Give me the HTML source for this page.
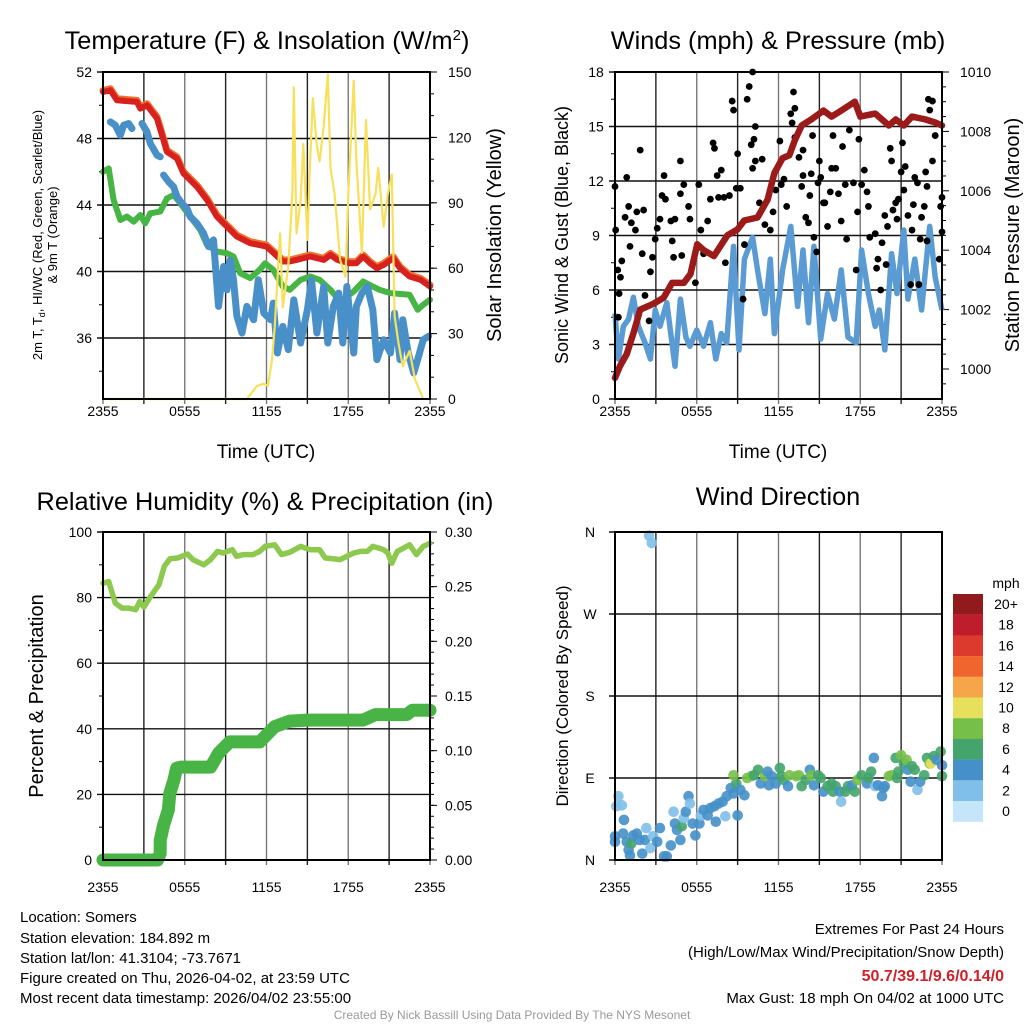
<!DOCTYPE html>
<html><head><meta charset="utf-8"><style>
body{margin:0;background:#fff;}
svg{display:block;font-family:"Liberation Sans",sans-serif;}
</style></head><body>
<svg id="fig" width="1024" height="1024" viewBox="0 0 1024 1024" xmlns="http://www.w3.org/2000/svg">
<rect width="1024" height="1024" fill="#fff"/>
<text x="267" y="49" font-size="25.3" text-anchor="middle">Temperature (F) &amp; Insolation (W/m<tspan dy="-9" font-size="15">2</tspan><tspan dy="9">)</tspan></text>
<text x="778" y="49" font-size="25.3" text-anchor="middle">Winds (mph) &amp; Pressure (mb)</text>
<text x="265" y="510" font-size="25.3" text-anchor="middle">Relative Humidity (%) &amp; Precipitation (in)</text>
<text x="778" y="505" font-size="25.3" text-anchor="middle">Wind Direction</text>
<g font-size="13" text-anchor="middle">
<text transform="translate(42,235) rotate(-90)">2m T, T<tspan dy="3" font-size="9">d</tspan><tspan dy="-3">, HI/WC (Red, Green, Scarlet/Blue)</tspan></text>
<text transform="translate(57,235) rotate(-90)">&amp; 9m T (Orange)</text></g>
<text transform="translate(501,235) rotate(-90)" font-size="20" text-anchor="middle">Solar Insolation (Yellow)</text>
<text transform="translate(568,235) rotate(-90)" font-size="18" text-anchor="middle">Sonic Wind &amp; Gust (Blue, Black)</text>
<text transform="translate(1019,235) rotate(-90)" font-size="20" text-anchor="middle">Station Pressure (Maroon)</text>
<text transform="translate(43,696) rotate(-90)" font-size="20" text-anchor="middle">Percent &amp; Precipitation</text>
<text transform="translate(568,696) rotate(-90)" font-size="17" text-anchor="middle">Direction (Colored By Speed)</text>
<text x="266" y="458" font-size="19" text-anchor="middle">Time (UTC)</text>
<text x="778" y="458" font-size="19" text-anchor="middle">Time (UTC)</text>
<g font-size="15">
<text x="20" y="922">Location: Somers</text>
<text x="20" y="943">Station elevation: 184.892 m</text>
<text x="20" y="963">Station lat/lon: 41.3104; -73.7671</text>
<text x="20" y="983">Figure created on Thu, 2026-04-02, at 23:59 UTC</text>
<text x="20" y="1003">Most recent data timestamp: 2026/04/02 23:55:00</text></g>
<g font-size="15" text-anchor="end">
<text x="1004" y="934">Extremes For Past 24 Hours</text>
<text x="1004" y="957">(High/Low/Max Wind/Precipitation/Snow Depth)</text>
<text x="1004" y="981" fill="#d0202a" font-weight="bold" font-size="16">50.7/39.1/9.6/0.14/0</text>
<text x="1004" y="1003">Max Gust: 18 mph On 04/02 at 1000 UTC</text></g>
<text x="512" y="1019" font-size="12" fill="#999" text-anchor="middle">Created By Nick Bassill Using Data Provided By The NYS Mesonet</text>
</svg>
<script>
// ---- data ----
const xTickLabels=["2355","0555","1155","1755","2355"];
const tempTicks=[36,40,44,48,52];
const solarTicks=[0,30,60,90,120,150];
const windTicks=[0,3,6,9,12,15,18];
const presTicks=[1000,1002,1004,1006,1008,1010];
const rhTicks=[0,20,40,60,80,100];
const precipTicks=[0.00,0.05,0.10,0.15,0.20,0.25,0.30];
const dirTickLabels=["N","E","S","W","N"];
const speedClassLabels=["0","2","4","6","8","10","12","14","16","18","20+"];
const speedColors=["#c4e6f8","#80bfe8","#4590c9","#44a46c","#76c04a","#e6e05c","#f6a649","#f0652e","#dc3a2c","#bf1d2b","#911a1c"];

const tempHours=[0,0.54,1.03,2.49,2.74,3.23,3.96,4.45,4.69,5.43,5.91,6.89,7.63,8.36,9.09,9.83,10.8,12.0,12.8,13.2,13.7,14.2,15.2,16.2,16.7,17.2,17.6,18.1,18.6,19.1,19.6,20.1,20.6,21.3,21.8,22.5,23.3,24];
const tempValues=[50.8,50.9,50.3,50.2,49.8,50.0,49.2,47.9,47.2,46.8,45.9,45.1,44.3,43.3,42.7,42.1,41.7,41.5,40.9,40.6,40.6,40.7,40.9,40.7,41.0,40.7,40.6,40.5,40.5,40.9,40.5,40.2,40.4,40.8,40.2,39.7,39.5,39.1];
const dewHours=[0,0.42,0.78,1.27,1.76,2.25,2.74,3.1,3.47,4.2,4.69,5.18,5.67,6.4,7.14,7.63,8.36,9.09,9.58,10.07,10.8,11.5,11.9,12.5,13.2,13.7,14.5,15.2,15.9,16.7,17.2,17.6,18.4,19.1,19.8,20.3,21.1,22.5,23.1,23.5,24];
const dewValues=[46.0,46.2,44.3,43.1,43.3,43.0,43.4,42.9,43.5,43.6,44.4,44.6,44.1,43.3,42.5,41.6,41.2,41.1,40.9,39.9,39.6,40.1,40.5,40.1,39.1,38.9,39.5,39.7,39.5,38.9,38.4,38.3,38.8,39.4,39.1,38.9,38.7,38.6,37.7,38.0,38.3];
const chillHours=[0.54,0.9,1.27,1.52,1.88,2.13,null,2.86,3.23,3.47,3.96,4.2,null,4.45,4.81,5.18,5.43,5.79,6.16,6.4,6.89,7.38,7.75,8.11,8.48,8.85,9.09,9.34,9.58,9.83,10.2,10.56,11.05,11.4,11.8,12.3,12.5,12.8,13.2,13.6,14.0,14.5,15.0,15.3,15.7,16.2,16.5,16.9,17.3,17.6,17.9,18.1,18.4,18.6,19.0,19.4,19.8,20.1,20.6,21.1,21.4,21.8,22.0,22.4,22.8,23.1,23.5,23.9];
const chillValues=[49.0,48.8,48.2,48.8,48.9,48.6,null,48.9,48.4,47.7,47.0,46.9,null,45.8,45.4,45.1,44.5,44.1,43.8,43.3,42.9,42.3,41.5,41.9,37.9,40.3,38.9,40.7,39.5,37.3,36.3,37.9,37.1,39.5,37.5,37.1,38.1,35.1,36.7,35.3,38.3,35.7,37.7,39.5,36.3,39.1,35.7,37.9,38.7,35.7,39.1,37.5,35.1,37.9,38.7,39.1,37.7,34.7,35.9,35.1,37.5,34.7,37.1,35.1,33.9,34.7,35.9,36.1];
const solarHours=[0,10.56,11.05,11.3,11.8,12.1,12.4,12.6,13.0,13.2,13.6,13.9,14.0,14.2,14.5,14.7,15.0,15.2,15.4,15.7,15.9,16.2,16.5,16.7,17.0,17.4,17.8,18.0,18.4,18.6,19.0,19.3,19.6,20.0,20.2,20.6,20.9,21.2,21.4,21.7,22.0,22.5,22.9,23.3,23.5,24];
const solarValues=[0,0,4,6,7,6,18,33,76,42,61,94,143,76,91,117,73,109,138,116,109,125,149,106,94,64,56,94,146,109,67,128,87,94,106,79,94,103,38,25,15,22,9,3,0,0];

const presHours=[0,0.37,0.86,1.35,1.85,2.83,3.57,4.19,5.05,5.54,6.03,6.52,7.26,8.25,8.99,9.48,10.46,11.2,11.7,12.3,12.8,13.2,13.7,14.4,15.3,15.9,16.6,17.6,18.0,19.1,20.1,20.6,21.2,21.8,22.8,23.5,24];
const presValues=[999.7,1000.1,1000.5,1001.2,1002.0,1002.2,1002.4,1002.9,1002.9,1003.2,1004.2,1004.0,1003.8,1004.5,1004.7,1005.0,1005.1,1005.7,1006.6,1007.1,1007.2,1007.7,1008.2,1008.4,1008.7,1008.5,1008.7,1009.0,1008.5,1008.6,1008.2,1008.4,1008.2,1008.5,1008.4,1008.3,1008.2];
const windHours=[0,0.25,0.62,1.0,1.35,1.72,2.2,2.6,2.95,3.3,3.8,4.4,4.8,5.2,5.5,6.0,6.5,7.0,7.4,7.8,8.2,8.7,9.1,9.5,10.1,10.5,11.0,11.4,11.7,12.3,12.9,13.4,13.8,14.2,14.6,15.1,15.6,16.1,16.6,17.1,17.7,18.1,18.6,19.1,19.4,19.8,20.3,20.7,21.2,21.5,22.0,22.5,23.1,23.5,24];
const windValues=[4.7,2.2,4.0,4.4,5.6,4.0,3.1,2.2,4.9,4.0,5.3,1.8,5.5,3.4,2.9,3.8,2.9,4.2,2.2,3.6,3.1,8.4,2.7,7.7,8.9,6.9,4.7,7.7,3.6,7.1,9.5,5.1,8.2,4.2,8.4,3.3,5.8,4.4,7.1,3.4,3.1,8.2,5.8,4.0,4.9,2.7,8.0,5.8,9.3,5.5,7.7,4.9,9.5,6.7,4.9];
const gustHours=[0,0.05,0.2,0.3,0.25,0.5,0.4,0.86,0.74,1.0,1.1,1.2,1.5,1.6,1.85,2.0,2.1,2.2,2.5,2.6,2.75,2.95,3.1,3.3,3.45,3.6,3.7,4.1,4.2,4.3,4.4,4.8,4.8,4.9,5.05,5.4,5.5,5.9,6.15,6.3,6.5,6.8,7.0,7.2,7.3,7.5,7.6,7.8,8.0,8.1,8.4,8.6,8.7,9.0,8.9,9.2,9.4,9.5,9.7,9.85,10.1,10.0,10.2,10.3,10.1,10.3,10.6,10.8,11.0,11.4,11.6,11.8,12.1,12.2,12.4,12.6,12.9,13.0,13.1,13.2,13.2,13.5,13.7,13.8,13.8,14.0,14.2,14.3,14.4,14.5,14.6,14.8,14.9,15.0,15.1,15.3,15.4,15.6,15.8,15.9,16.0,16.2,16.4,16.6,16.7,16.9,17.0,17.2,17.5,17.7,17.8,17.9,18.1,18.3,18.5,18.6,18.7,19.1,19.2,19.3,19.5,19.6,19.8,19.9,20.0,20.2,20.3,20.4,20.6,20.7,20.8,21.0,21.1,21.2,21.3,21.5,21.7,21.8,21.9,22.0,22.2,22.3,22.4,22.5,22.7,22.8,22.9,23.0,23.1,23.3,23.3,23.5,23.8,24.0,24.0,23.9,22.9];
const gustValues=[11.7,9.3,7.1,5.8,4.5,7.6,6.7,12.2,10.0,10.6,8.4,9.7,9.3,10.3,13.7,8.0,10.4,5.7,4.3,7.0,7.8,8.8,9.4,9.9,11.2,12.3,11.0,9.8,8.7,7.8,9.9,13.1,11.3,7.9,11.8,10.6,9.9,6.4,11.8,9.3,8.0,9.8,11.0,14.1,13.8,12.3,11.1,12.6,11.1,7.5,11.2,16.4,15.9,13.5,11.6,11.6,5.5,8.5,16.5,17.2,18.0,14.0,14.3,15.0,12.7,13.1,10.8,13.2,9.6,9.3,10.3,11.5,14.2,11.8,12.1,10.6,15.7,15.2,16.9,16.0,14.4,13.3,11.7,13.7,12.3,10.0,9.7,11.2,12.4,14.5,8.9,8.1,11.9,13.1,12.2,10.8,10.8,9.5,11.4,12.7,14.5,12.7,11.3,9.8,13.9,11.8,8.8,14.8,11.9,7.1,10.3,14.3,11.8,12.6,11.4,10.6,8.9,9.1,7.2,7.7,6.0,8.6,10.1,7.4,9.5,13.8,13.1,10.4,10.8,9.9,11.0,12.5,14.1,11.5,12.8,10.1,6.3,9.3,10.7,12.2,11.9,6.3,8.8,10.0,10.6,12.5,11.7,16.5,15.9,16.4,13.1,14.5,7.7,9.2,11.1,10.6,8.7];

const rhHours=[0,0.42,0.9,1.4,1.9,2.4,2.7,3.0,3.5,4.1,4.5,4.9,5.5,6.2,6.6,7.4,7.9,8.4,8.8,9.5,9.8,10.3,11.0,11.5,11.9,12.6,13.1,13.7,14.5,15.2,15.9,16.3,17.4,18.4,18.9,19.4,19.8,20.6,20.9,21.2,21.6,22.5,23.0,23.5,24];
const rhValues=[84.4,84.9,78.3,76.8,76.8,76.3,78.8,77.1,80.4,83.9,89.5,91.8,92.1,93.3,91.6,90.0,91.6,94.1,93.6,94.6,92.6,93.1,93.1,94.1,95.6,96.1,93.1,93.8,95.6,94.6,94.6,92.1,91.6,93.6,94.1,94.1,95.6,94.6,93.6,90.5,94.1,96.1,93.1,95.6,96.6];
const precipHours=[0,4.0,4.2,4.2,4.45,4.8,4.9,5.2,5.4,5.7,7.9,8.5,9.3,11.5,12.6,13.7,15.0,19.1,20.0,22.3,22.7,24];
const precipValues=[0,0,0.006,0.018,0.032,0.046,0.061,0.073,0.084,0.085,0.085,0.098,0.108,0.108,0.122,0.127,0.128,0.128,0.133,0.133,0.137,0.137];

const dirHours=[2.5,2.7,0,0,0.25,0.1,0.5,0.66,0.6,0.86,1.0,1.1,1.2,1.35,1.6,1.8,2.0,2.2,2.3,2.6,2.8,3.1,3.3,3.6,3.8,4.1,4.3,4.4,4.55,4.8,4.9,5.05,5.2,5.4,5.5,5.7,5.9,6.2,6.3,6.5,6.8,7.0,7.3,7.4,7.6,7.9,8.1,8.2,8.5,8.7,8.9,9.0,8.7,9.2,9.5,9.7,10.0,10.2,10.5,10.7,11.0,11.2,11.3,11.5,11.8,12.1,12.2,12.4,12.7,12.8,13.3,13.5,13.7,14.0,14.3,14.4,14.6,14.9,15.1,15.3,15.6,15.9,16.0,16.2,16.5,16.6,16.9,17.1,17.4,17.6,17.8,18.1,18.5,18.6,18.8,19.0,19.1,19.3,19.6,19.7,19.8,20.1,20.3,20.6,20.7,20.8,21.0,21.2,21.4,21.5,21.7,21.8,22.0,22.2,22.4,22.7,22.9,23.1,23.2,23.4,23.6,23.9,24.0,24.0];
const dirValues=[356,348,26,20,70,59,60,44,29,20,11,5,18,27,29,22,7,22,35,13,26,20,35,4,4,16,53,40,33,22,37,46,53,70,62,40,27,40,49,55,49,57,59,42,62,64,48,70,79,73,84,49,93,77,71,90,92,93,99,84,92,97,82,92,84,101,92,88,81,93,92,93,81,88,99,93,82,93,90,75,81,84,75,81,75,64,75,81,82,75,88,93,84,90,97,112,81,82,70,79,81,92,93,112,90,97,115,106,110,99,86,103,99,77,86,93,112,106,106,114,110,119,104,92];
const dirSpeeds=[2,2,4,4,2,2,2,4,4,4,4,4,6,4,4,4,4,4,2,2,2,4,4,4,4,4,2,4,4,4,6,2,4,4,2,4,4,4,2,4,4,4,4,4,4,4,2,4,4,4,6,4,8,4,4,8,8,6,6,4,8,4,4,4,4,6,6,6,4,8,8,8,6,6,4,8,4,6,6,4,6,6,6,6,4,2,6,6,4,6,8,6,4,6,6,4,2,4,4,4,4,8,8,6,6,6,8,6,8,4,4,6,6,2,4,6,6,8,10,6,4,6,4,6];

// ---- drawing ----
const svg=document.getElementById('fig');
const NS='http://www.w3.org/2000/svg';
function mk(tag,attrs,parent){const e=document.createElementNS(NS,tag);for(const k in attrs)e.setAttribute(k,attrs[k]);(parent||svg).appendChild(e);return e;}
function txt(x,y,s,size,anchor,parent){const t=mk('text',{x:x,y:y,'font-size':size,'text-anchor':anchor},parent);t.textContent=s;return t;}
function pathFrom(xs,ys,X,Y){let d='',pen=false;for(let i=0;i<xs.length;i++){if(xs[i]===null||ys[i]===null){pen=false;continue;}d+=(pen?'L':'M')+X(xs[i]).toFixed(1)+','+Y(ys[i]).toFixed(1);pen=true;}return d;}

function frame(L,R,T,B,name){
  const g=mk('g',{});
  
  
  for(let i=0;i<=8;i++){const x=L+(R-L)*i/8;mk('line',{x1:x,y1:T,x2:x,y2:B+5,stroke:(i%2?'#222':'#777'),'stroke-width':1.4},g);}
  return g;
}
function hGrid(g,L,R,ys){ys.forEach(y=>mk('line',{x1:L-6,y1:y,x2:R,y2:y,stroke:'#111','stroke-width':1.4},g));}
function border(L,R,T,B,name){const r=mk('rect',{x:L,y:T,width:R-L,height:B-T,fill:'none',stroke:'#000','stroke-width':2});}
function xLabels(L,R,y,name){const g=mk('g',{});xTickLabels.forEach((s,i)=>txt(L+(R-L)*i/4,y,s,14,'middle',g));}

// Panel 1
const P1={L:103,R:430,T:72,B:399};
const X1=h=>P1.L+h/24*(P1.R-P1.L);
const YT=t=>P1.T+(52-t)*16.625;
const YS=w=>P1.B-w/150*(P1.B-P1.T);
let g1=frame(P1.L,P1.R,P1.T,P1.B,'temp');
hGrid(g1,P1.L,P1.R,tempTicks.map(YT));
for(let t=34;t<52;t+=4)mk('line',{x1:P1.L-4,y1:YT(t),x2:P1.L,y2:YT(t),stroke:'#000'},g1);
let gl=mk('g',{});
tempTicks.forEach(t=>txt(P1.L-11,YT(t)+5,String(t),14,'end',gl));
let gr=mk('g',{});
solarTicks.forEach(w=>{mk('line',{x1:P1.R,y1:YS(w),x2:P1.R+7,y2:YS(w),stroke:'#000'},gr);txt(P1.R+18,YS(w)+5,String(w),14,'start',gr);});
for(let w=10;w<150;w+=10)mk('line',{x1:P1.R,y1:YS(w),x2:P1.R+4,y2:YS(w),stroke:'#000'},gr);
let s;
s=mk('path',{d:pathFrom(tempHours,tempValues,X1,v=>YT(v)-1.5),fill:'none',stroke:'#f26f2c','stroke-width':7,'stroke-linejoin':'round','stroke-linecap':'round'});

s=mk('path',{d:pathFrom(tempHours,tempValues,X1,YT),fill:'none',stroke:'#d7211f','stroke-width':6,'stroke-linejoin':'round','stroke-linecap':'round'});

s=mk('path',{d:pathFrom(dewHours,dewValues,X1,YT),fill:'none',stroke:'#46b544','stroke-width':6,'stroke-linejoin':'round','stroke-linecap':'round'});

s=mk('path',{d:pathFrom(chillHours,chillValues,X1,YT),fill:'none',stroke:'#4a90c8','stroke-width':7,'stroke-linejoin':'round','stroke-linecap':'round'});

s=mk('path',{d:pathFrom(solarHours,solarValues,X1,YS),fill:'none',stroke:'#f8e05a','stroke-width':2.2,'stroke-linejoin':'round'});

border(P1.L,P1.R,P1.T,P1.B,'temp');
xLabels(P1.L,P1.R,416,'temp');

// Panel 2
const P2={L:615,R:942,T:72,B:399};
const X2=h=>P2.L+h/24*(P2.R-P2.L);
const YW=m=>P2.B-m/18*(P2.B-P2.T);
const YP=p=>369-(p-1000)*29.7;
let g2=frame(P2.L,P2.R,P2.T,P2.B,'wind');
hGrid(g2,P2.L,P2.R,windTicks.map(YW));
for(let m=1.5;m<18;m+=3)mk('line',{x1:P2.L-4,y1:YW(m),x2:P2.L,y2:YW(m),stroke:'#000'},g2);
gl=mk('g',{});
windTicks.forEach(m=>txt(P2.L-19,YW(m)+5,String(m),14,'middle',gl));
gr=mk('g',{});
presTicks.forEach(p=>{mk('line',{x1:P2.R,y1:YP(p),x2:P2.R+7,y2:YP(p),stroke:'#000'},gr);txt(P2.R+18,YP(p)+5,String(p),14,'start',gr);});
for(let p=999.5;p<1010;p+=0.5){if(p%2)mk('line',{x1:P2.R,y1:YP(p),x2:P2.R+4,y2:YP(p),stroke:'#000'},gr);}
s=mk('path',{d:pathFrom(windHours,windValues,X2,YW),fill:'none',stroke:'#5a9bd3','stroke-width':5.5,'stroke-linejoin':'round'});

let gg=mk('g',{});
gustHours.forEach((h,i)=>{const c=mk('circle',{cx:X2(h),cy:YW(gustValues[i]),r:3.4,fill:'#000'},gg);});
s=mk('path',{d:pathFrom(presHours,presValues,X2,YP),fill:'none',stroke:'#9b1a1a','stroke-width':6.5,'stroke-linejoin':'round','stroke-linecap':'round'});

border(P2.L,P2.R,P2.T,P2.B,'wind');
xLabels(P2.L,P2.R,416,'wind');

// Panel 3
const P3={L:103,R:430,T:532,B:860};
const YR=r=>P3.B-r/100*(P3.B-P3.T);
const YPr=v=>P3.B-v/0.3*(P3.B-P3.T);
let g3=frame(P3.L,P3.R,P3.T,P3.B,'rh');
hGrid(g3,P3.L,P3.R,rhTicks.map(YR));
for(let r=10;r<100;r+=20)mk('line',{x1:P3.L-4,y1:YR(r),x2:P3.L,y2:YR(r),stroke:'#000'},g3);
gl=mk('g',{});
rhTicks.forEach(r=>txt(P3.L-11,YR(r)+5,String(r),14,'end',gl));
gr=mk('g',{});
precipTicks.forEach(v=>{mk('line',{x1:P3.R,y1:YPr(v),x2:P3.R+7,y2:YPr(v),stroke:'#000'},gr);txt(P3.R+15,YPr(v)+5,v.toFixed(2),14,'start',gr);});
for(let v=0.01;v<0.3;v+=0.01)mk('line',{x1:P3.R,y1:YPr(v),x2:P3.R+4,y2:YPr(v),stroke:'#000'},gr);
s=mk('path',{d:pathFrom(rhHours,rhValues,X1,YR),fill:'none',stroke:'#8dc94e','stroke-width':5.5,'stroke-linejoin':'round','stroke-linecap':'round'});

s=mk('path',{d:pathFrom(precipHours,precipValues,X1,YPr),fill:'none',stroke:'#48b446','stroke-width':13,'stroke-linejoin':'round','stroke-linecap':'round'});

border(P3.L,P3.R,P3.T,P3.B,'rh');
xLabels(P3.L,P3.R,892,'rh');

// Panel 4
const P4={L:615,R:942,T:532,B:860};
const YD=d=>P4.B-d/360*(P4.B-P4.T);
let g4=frame(P4.L,P4.R,P4.T,P4.B,'dir');
hGrid(g4,P4.L,P4.R,[0,90,180,270,360].map(YD));
gl=mk('g',{});
dirTickLabels.forEach((s2,i)=>txt(P4.L-25,YD(i*90)+5,s2,14,'middle',gl));
let gd=mk('g',{});
dirHours.forEach((h,i)=>{const c=mk('circle',{cx:X2(h),cy:YD(dirValues[i]),r:5.3,fill:speedColors[Math.min(10,Math.floor(dirSpeeds[i]/2))],'fill-opacity':0.9},gd);});
border(P4.L,P4.R,P4.T,P4.B,'dir');
xLabels(P4.L,P4.R,892,'dir');
// colorbar
let cb=mk('g',{});
txt(1006,588,'mph',14,'middle',cb);
speedClassLabels.forEach((lab,i)=>{const k=10-i;const y=594+i*20.7;
  const r=mk('rect',{x:953,y:y,width:30,height:20.8,fill:speedColors[k]},cb);
  txt(1006,y+15,speedClassLabels[k],14,'middle',cb);});
</script>
</body></html>
